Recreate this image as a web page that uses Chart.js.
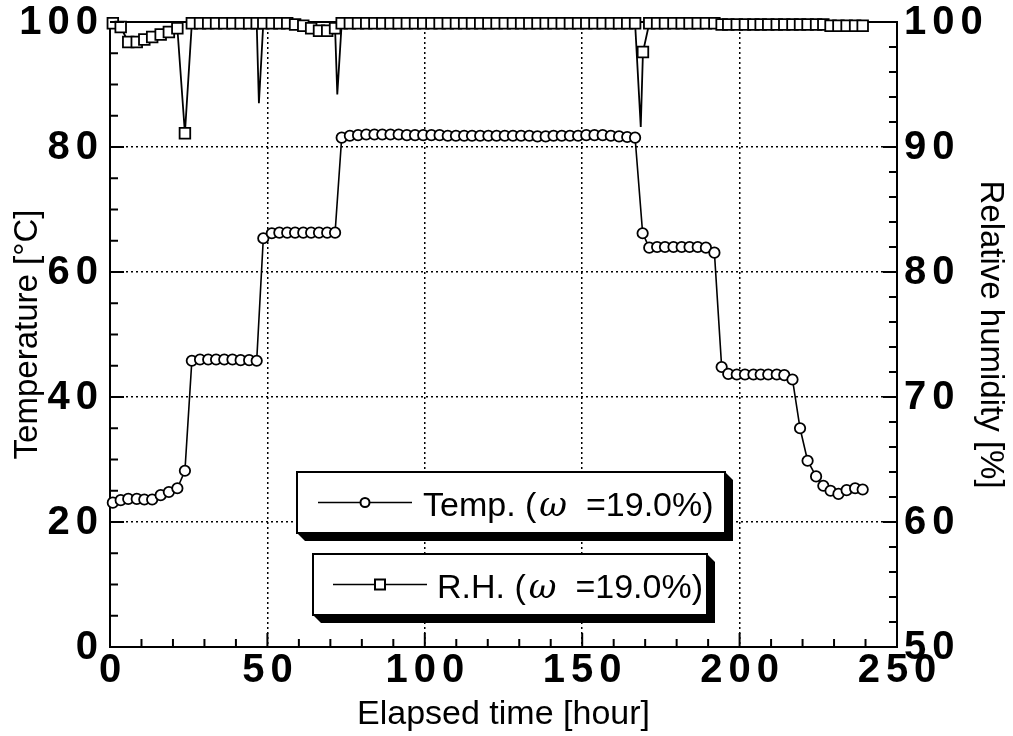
<!DOCTYPE html>
<html>
<head>
<meta charset="utf-8">
<script src="https://cdn.jsdelivr.net/npm/chart.js@4/dist/chart.umd.min.js"></script>
<style>
  html, body { margin: 0; padding: 0; background: #fff; }
  #wrap { width: 1013px; height: 736px; }
</style>
</head>
<body>
<div id="wrap"><canvas id="chart"></canvas></div>
<script>
// ===== DATA =====
// elapsed time [hour] of each reading
const tempTime = [
  0.9, 3.4, 5.8, 8.5, 10.9, 13.4, 16.1, 18.7, 21.4, 23.8,
  26.0, 28.6, 31.2, 33.7, 36.3, 38.9, 41.5, 44.2, 46.6,
  48.7, 51.4, 53.8, 56.3, 58.8, 61.4, 63.9, 66.4, 69.0, 71.5,
  73.6, 76.2, 78.8, 81.4, 84.0, 86.5, 89.1, 91.7, 94.3, 96.9,
  99.5, 102.1, 104.7, 107.3, 109.9, 112.5, 115.0, 117.6, 120.2, 122.8,
  125.4, 128.0, 130.6, 133.2, 135.8, 138.4, 140.9, 143.5, 146.1, 148.7,
  151.3, 153.9, 156.5, 159.1, 161.7, 164.3, 166.8,
  169.2, 171.3, 173.8, 176.3, 179.0, 181.6, 184.1, 186.7, 189.3, 192.0,
  194.3, 196.4, 199.1, 201.7, 204.4, 206.7, 209.1, 211.8, 214.2, 216.8,
  219.2, 221.6, 224.3, 226.6, 228.9, 231.4, 234.0, 236.7, 239.1
];
// temperature [°C]
const tempVal = [
  23.1, 23.5, 23.7, 23.7, 23.6, 23.6, 24.3, 24.8, 25.4, 28.2,
  45.8, 46.0, 46.0, 46.0, 46.0, 46.0, 45.9, 45.9, 45.8,
  65.4, 66.2, 66.3, 66.3, 66.3, 66.3, 66.3, 66.3, 66.3, 66.3,
  81.5, 81.8, 81.9, 82.0, 82.0, 82.0, 82.0, 82.0, 81.9, 81.9,
  81.9, 81.9, 81.9, 81.8, 81.8, 81.8, 81.8, 81.8, 81.8, 81.8,
  81.8, 81.8, 81.8, 81.8, 81.7, 81.7, 81.8, 81.8, 81.8, 81.8,
  81.9, 81.9, 81.9, 81.8, 81.7, 81.6, 81.5,
  66.2, 63.9, 64.0, 64.0, 64.0, 64.0, 64.0, 64.0, 63.9, 63.1,
  44.8, 43.7, 43.6, 43.6, 43.6, 43.6, 43.6, 43.6, 43.5, 42.8,
  35.0, 29.8, 27.3, 25.8, 25.0, 24.5, 25.1, 25.4, 25.2
];

// relative humidity readings (includes three short dips drawn without a marker)
const rhTime = [
  0.9, 3.4, 5.8, 8.5, 10.9, 13.4, 16.1, 18.7, 21.4, 23.8,
  26.0, 28.6, 31.2, 33.7, 36.3, 38.9, 41.5, 44.2, 46.6, 47.3,
  48.7, 51.4, 53.8, 56.3, 58.8, 61.4, 63.9, 66.4, 69.0, 71.5, 72.2,
  73.6, 76.2, 78.8, 81.4, 84.0, 86.5, 89.1, 91.7, 94.3, 96.9,
  99.5, 102.1, 104.7, 107.3, 109.9, 112.5, 115.0, 117.6, 120.2, 122.8,
  125.4, 128.0, 130.6, 133.2, 135.8, 138.4, 140.9, 143.5, 146.1, 148.7,
  151.3, 153.9, 156.5, 159.1, 161.7, 164.3, 166.8, 168.6,
  169.3, 171.3, 173.8, 176.3, 179.0, 181.6, 184.1, 186.7, 189.3, 192.0,
  194.3, 196.4, 199.1, 201.7, 204.4, 206.7, 209.1, 211.8, 214.2, 216.8,
  219.2, 221.6, 224.3, 226.6, 228.9, 231.4, 234.0, 236.7, 239.1
];
const rhVal = [
  99.9, 99.6, 98.4, 98.4, 98.6, 98.8, 99.0, 99.2, 99.5, 91.1,
  99.9, 99.9, 99.9, 99.9, 99.9, 99.9, 99.9, 99.9, 99.9, 93.5,
  99.9, 99.9, 99.9, 99.9, 99.8, 99.7, 99.5, 99.3, 99.3, 99.5, 94.2,
  99.9, 99.9, 99.9, 99.9, 99.9, 99.9, 99.9, 99.9, 99.9, 99.9,
  99.9, 99.9, 99.9, 99.9, 99.9, 99.9, 99.9, 99.9, 99.9, 99.9,
  99.9, 99.9, 99.9, 99.9, 99.9, 99.9, 99.9, 99.9, 99.9, 99.9,
  99.9, 99.9, 99.9, 99.9, 99.9, 99.9, 99.9, 91.6,
  97.6, 99.9, 99.9, 99.9, 99.9, 99.9, 99.9, 99.9, 99.9, 99.9,
  99.8, 99.8, 99.8, 99.8, 99.8, 99.8, 99.8, 99.8, 99.8, 99.8,
  99.8, 99.8, 99.8, 99.8, 99.7, 99.7, 99.7, 99.7, 99.7
];
// times of the dips that carry no marker
const rhNoMarker = [47.3, 72.2, 168.6];

const xTickVals = [0, 50, 100, 150, 200, 250];
const tempTickVals = [0, 20, 40, 60, 80, 100];
const rhTickVals = [50, 60, 70, 80, 90, 100];

const legendItems = [
  { name: 'Temp. (', sym: 'ω', tail: '  =19.0%)', marker: 'circle' },
  { name: 'R.H. (', sym: 'ω', tail: '  =19.0%)', marker: 'rect' }
];

const FONT = '"Liberation Sans", Arial, Helvetica, sans-serif';

// ===== PLUGINS =====
// small tick marks pointing into the plot, like the original
const inwardTicks = {
  id: 'inwardTicks',
  afterDatasetsDraw(chart) {
    const { ctx, chartArea: a, scales } = chart;
    ctx.save();
    ctx.strokeStyle = '#000';
    ctx.lineWidth = 2;
    const seg = (x1, y1, x2, y2) => { ctx.beginPath(); ctx.moveTo(x1, y1); ctx.lineTo(x2, y2); ctx.stroke(); };
    for (let v = 0; v <= 250; v += 10) {
      const px = scales.x.getPixelForValue(v);
      seg(px, a.bottom, px, a.bottom - (v % 50 === 0 ? 14 : 8));
    }
    for (let v = 0; v <= 100; v += 5) {
      const py = scales.y.getPixelForValue(v);
      seg(a.left, py, a.left + (v % 20 === 0 ? 14 : 8), py);
    }
    for (let v = 50; v <= 100; v += 2) {
      const py = scales.y2.getPixelForValue(v);
      seg(a.right, py, a.right - (v % 10 === 0 ? 14 : 8), py);
    }
    ctx.restore();
  }
};

// tick numbers: heavy digits, set a little loose
const spacedLabels = {
  id: 'spacedLabels',
  afterDraw(chart) {
    const { ctx, chartArea: a, scales } = chart;
    const gap = 6;
    ctx.save();
    ctx.fillStyle = '#000';
    ctx.font = 'bold 40px ' + FONT;
    ctx.textBaseline = 'middle';
    ctx.textAlign = 'left';
    const put = (txt, x, y, align) => {
      const chars = [...txt];
      const ws = chars.map(ch => ctx.measureText(ch).width);
      const total = ws.reduce((s, w) => s + w, 0) + gap * (chars.length - 1);
      let sx = align === 'right' ? x - total : align === 'center' ? x - total / 2 : x;
      chars.forEach((ch, i) => { ctx.fillText(ch, sx, y); sx += ws[i] + gap; });
    };
    xTickVals.forEach(v => put(String(v), scales.x.getPixelForValue(v), a.bottom + 24, 'center'));
    tempTickVals.forEach(v => put(String(v), a.left - 12, scales.y.getPixelForValue(v) + 1, 'right'));
    rhTickVals.forEach(v => put(String(v), a.right + 7, scales.y2.getPixelForValue(v) + 1, 'left'));
    ctx.restore();
  }
};

// boxed legends with a drop shadow
const boxLegend = {
  id: 'boxLegend',
  afterDraw(chart) {
    const { ctx } = chart;
    const boxes = [
      { x: 297, y: 472, w: 428, h: 61, lx1: 318, lx2: 412, mx: 365, tx: 423 },
      { x: 313, y: 554, w: 394, h: 61, lx1: 333, lx2: 427, mx: 380, tx: 437 }
    ];
    const sh = 8;
    boxes.forEach((b, i) => {
      const it = legendItems[i];
      ctx.save();
      // shadow (extruded to bottom-right)
      ctx.fillStyle = '#000';
      ctx.beginPath();
      ctx.moveTo(b.x + b.w, b.y);
      ctx.lineTo(b.x + b.w + sh, b.y + sh);
      ctx.lineTo(b.x + b.w + sh, b.y + b.h + sh);
      ctx.lineTo(b.x + sh, b.y + b.h + sh);
      ctx.lineTo(b.x, b.y + b.h);
      ctx.closePath();
      ctx.fill();
      ctx.fillStyle = '#fff';
      ctx.fillRect(b.x, b.y, b.w, b.h);
      ctx.strokeStyle = '#000';
      ctx.lineWidth = 2;
      ctx.strokeRect(b.x, b.y, b.w, b.h);
      // sample line + marker
      const cy = b.y + b.h / 2;
      ctx.lineWidth = 1.5;
      ctx.beginPath(); ctx.moveTo(b.lx1, cy); ctx.lineTo(b.lx2, cy); ctx.stroke();
      ctx.lineWidth = 2;
      ctx.fillStyle = '#fff';
      if (it.marker === 'circle') {
        ctx.beginPath(); ctx.arc(b.mx, cy, 4.5, 0, Math.PI * 2); ctx.fill(); ctx.stroke();
      } else {
        ctx.fillRect(b.mx - 5, cy - 5, 10, 10); ctx.strokeRect(b.mx - 5, cy - 5, 10, 10);
      }
      // text
      ctx.fillStyle = '#000';
      ctx.textBaseline = 'alphabetic';
      const base = cy + 13;
      let x = b.tx;
      ctx.font = '34px ' + FONT;
      ctx.fillText(it.name, x, base); x += ctx.measureText(it.name).width + 3;
      ctx.font = 'italic 34px "DejaVu Serif", serif';
      ctx.fillText(it.sym, x, base); x += ctx.measureText(it.sym).width;
      ctx.font = '34px ' + FONT;
      ctx.fillText(it.tail, x, base);
      ctx.restore();
    });
  }
};

// ===== CHART =====
const tempPoints = tempTime.map((t, i) => ({ x: t, y: tempVal[i] }));
const rhPoints = rhTime.map((t, i) => ({ x: t, y: rhVal[i] }));

const fixSize = (prop, size) => (scale) => { scale[prop] = size; };
const dotted = (ctx) => (ctx.index === 0 || ctx.index === ctx.scale.ticks.length - 1) ? 'rgba(0,0,0,0)' : '#000';

new Chart(document.getElementById('chart'), {
  type: 'line',
  data: {
    datasets: [
      {
        label: 'Temp.',
        data: tempPoints,
        yAxisID: 'y',
        borderColor: '#000', borderWidth: 1.6, tension: 0,
        pointStyle: 'circle', pointRadius: 5.2, pointBorderWidth: 1.8,
        pointBackgroundColor: '#fff', pointBorderColor: '#000',
        clip: false
      },
      {
        label: 'R.H.',
        data: rhPoints,
        yAxisID: 'y2',
        borderColor: '#000', borderWidth: 1.8, tension: 0,
        pointStyle: 'rect',
        pointRadius: (c) => (c.raw && rhNoMarker.includes(c.raw.x)) ? 0 : 7.5,
        pointBorderWidth: 1.8,
        pointBackgroundColor: '#fff', pointBorderColor: '#000',
        clip: false
      }
    ]
  },
  options: {
    responsive: true,
    maintainAspectRatio: false,
    animation: false,
    layout: { padding: { top: 22, left: 0, right: 0, bottom: 0 } },
    plugins: { legend: { display: false }, tooltip: { enabled: false } },
    scales: {
      x: {
        type: 'linear', position: 'bottom', min: 0, max: 250,
        afterBuildTicks: (s) => { s.ticks = xTickVals.map(v => ({ value: v })); },
        afterFit: fixSize('height', 89),
        ticks: { display: false },
        grid: { color: dotted, lineWidth: 1.5, drawTicks: false },
        border: { display: true, color: '#000', width: 2, dash: [2, 3] },
        title: { display: true, text: 'Elapsed time [hour]', color: '#000', padding: { top: 0, bottom: 1 },
                 font: { family: FONT, size: 34 } }
      },
      xTop: {
        type: 'linear', position: 'top', min: 0, max: 250,
        afterFit: fixSize('height', 0),
        ticks: { display: false },
        grid: { display: true, drawOnChartArea: false, drawTicks: false },
        border: { display: true, color: '#000', width: 2 }
      },
      y: {
        type: 'linear', position: 'left', min: 0, max: 100,
        afterBuildTicks: (s) => { s.ticks = tempTickVals.map(v => ({ value: v })); },
        afterFit: fixSize('width', 110),
        ticks: { display: false },
        grid: { color: dotted, lineWidth: 1.5, drawTicks: false },
        border: { display: true, color: '#000', width: 2, dash: [2, 3] },
        title: { display: true, text: 'Temperature [°C]', color: '#000', padding: { top: 8, bottom: 0 },
                 font: { family: FONT, size: 33 } }
      },
      y2: {
        type: 'linear', position: 'right', min: 50, max: 100,
        afterBuildTicks: (s) => { s.ticks = rhTickVals.map(v => ({ value: v })); },
        afterFit: fixSize('width', 116),
        ticks: { display: false },
        grid: { display: true, drawOnChartArea: false, drawTicks: false },
        border: { display: true, color: '#000', width: 2 },
        title: { display: true, text: 'Relative humidity [%]', color: '#000', padding: { top: 3, bottom: 0 },
                 font: { family: FONT, size: 33 } }
      }
    }
  },
  plugins: [inwardTicks, spacedLabels, boxLegend]
});
</script>
</body>
</html>
